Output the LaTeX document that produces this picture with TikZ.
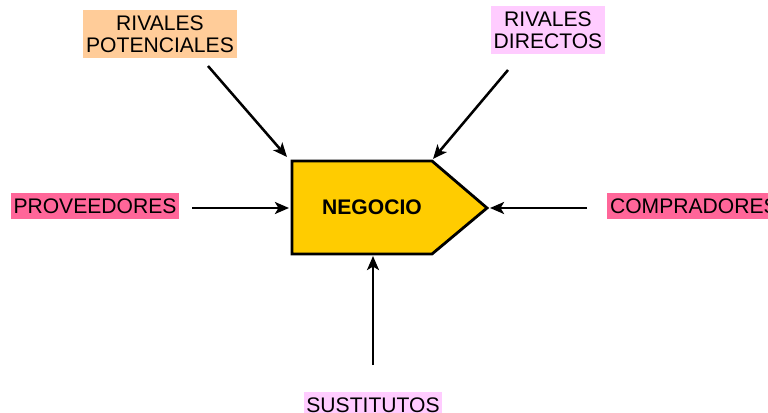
\documentclass[tikz,border=0pt]{standalone}
\usepackage{fontspec}
\setmainfont{Liberation Sans}
\usetikzlibrary{arrows.meta}
\definecolor{peach}{HTML}{FFCC99}
\definecolor{lila}{HTML}{FFCCFF}
\definecolor{rosa}{HTML}{FF6699}
\definecolor{oro}{HTML}{FFCC00}
\tikzset{
  fuerza/.style={inner xsep=2pt, inner ysep=4pt, align=center, font=\fontsize{15}{16}\selectfont},
  flecha/.style={line width=1.8pt, -{Stealth[length=10pt,width=8.5pt,inset=2.5pt]}}
}
\begin{document}
\begin{tikzpicture}[x=0.025cm,y=-0.025cm]
\useasboundingbox (0,0) rectangle (768,413);
% negocio
\coordinate (ni) at (292,161);
\coordinate (nd) at (432,161);
\coordinate (np) at (487,208);
\coordinate (nb) at (432,254);
\coordinate (nj) at (292,254);
\draw[line width=2pt, fill=oro] (ni) -- (nd) -- (np) -- (nb) -- (nj) -- cycle;
\node[font=\fontsize{15}{16}\selectfont\bfseries] (negocio) at (372,207) {NEGOCIO};
% fuerzas
\node[fuerza, fill=peach] (potenciales) at (160,34) {RIVALES\\POTENCIALES};
\node[fuerza, fill=lila] (directos) at (548,30) {RIVALES\\DIRECTOS};
\node[fuerza, fill=rosa] (proveedores) at (95,206) {PROVEEDORES};
\node[fuerza, fill=rosa, anchor=west] (compradores) at (607,206) {COMPRADORES};
\node[fuerza, fill=lila, anchor=north] (sustitutos) at (373,392) {SUSTITUTOS};
% flechas
\coordinate (pa) at (208,66);
\coordinate (da) at (508,70);
\coordinate (va) at (192,208);
\coordinate (ca) at (587,208);
\coordinate (sa) at (373,365);
\draw[flecha] (pa) -- (287,157);
\draw[flecha] (da) -- (433,159);
\draw[flecha] (va) -- (289,208);
\draw[flecha] (ca) -- (490,208);
\draw[flecha] (sa) -- (373,256);
\end{tikzpicture}
\end{document}
